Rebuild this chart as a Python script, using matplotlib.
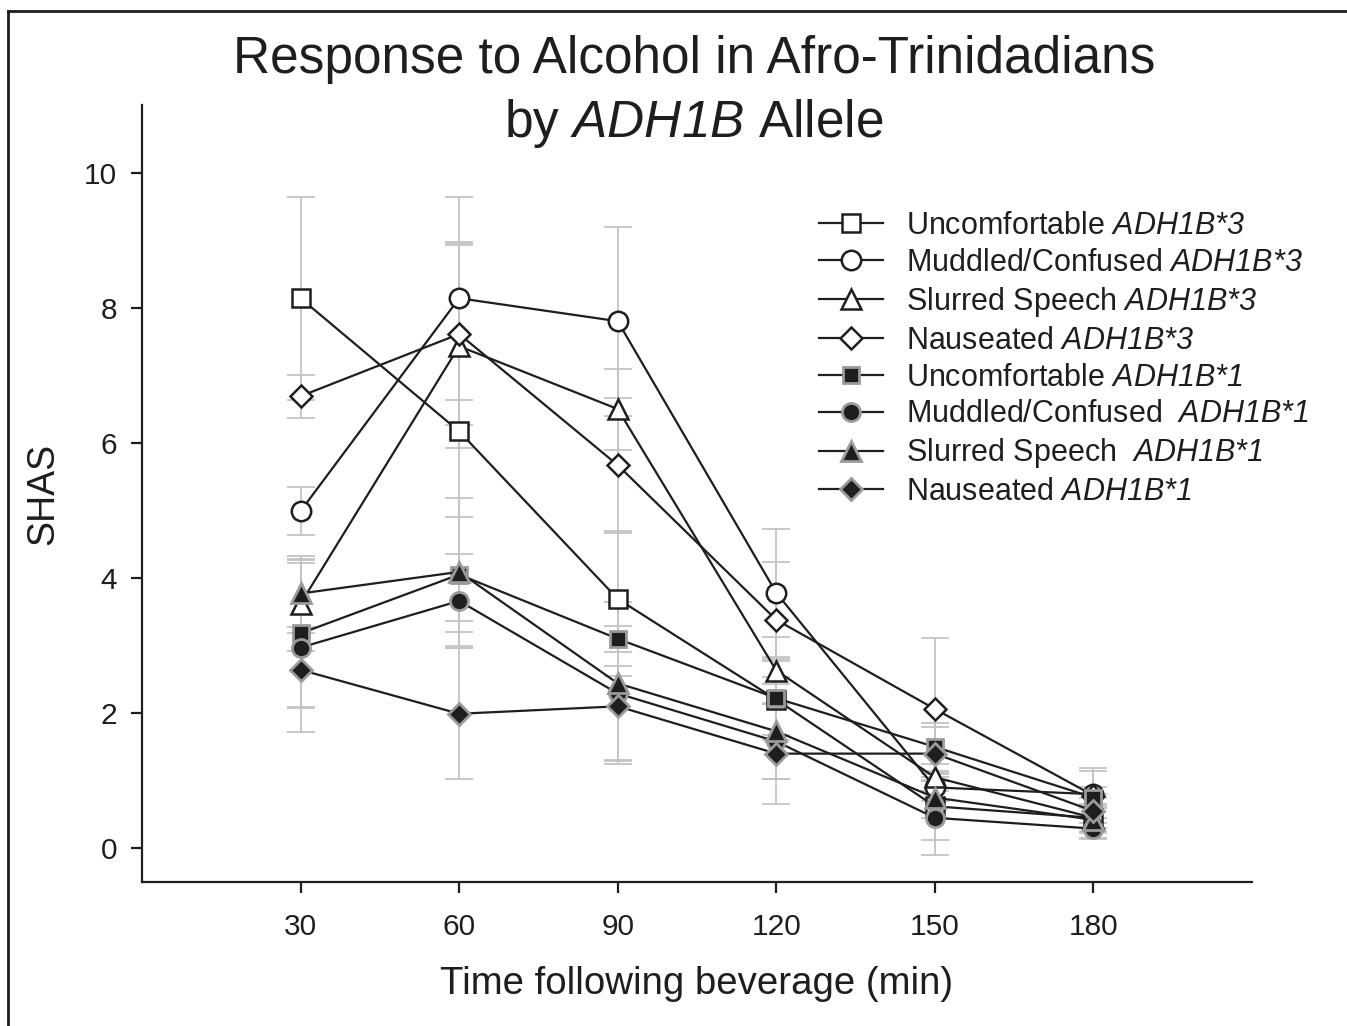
import matplotlib
matplotlib.use("Agg")
import matplotlib.pyplot as plt
from matplotlib.lines import Line2D

plt.rcParams['font.family'] = ['Liberation Sans', 'DejaVu Sans']
# math segments are only used for the italic gene names
plt.rcParams['mathtext.fontset'] = 'custom'
plt.rcParams['mathtext.rm'] = 'Liberation Sans:italic'
plt.rcParams['mathtext.it'] = 'Liberation Sans:italic'

# Time points (min)
times = [30, 60, 90, 120, 150, 180]

# Mean SHAS scores per symptom and allele
unc_3 = [8.14, 6.17, 3.69, 2.20, 0.62, 0.45]
mud_3 = [4.99, 8.14, 7.80, 3.78, 0.90, 0.80]
slur_3 = [3.62, 7.43, 6.50, 2.63, 1.05, 0.45]
naus_3 = [6.69, 7.61, 5.67, 3.38, 2.06, 0.78]
unc_1 = [3.18, 4.05, 3.10, 2.22, 1.50, 0.75]
mud_1 = [2.97, 3.66, 2.29, 1.58, 0.45, 0.29]
slur_1 = [3.77, 4.09, 2.44, 1.73, 0.75, 0.42]
naus_1 = [2.64, 1.99, 2.10, 1.40, 1.40, 0.55]

# Standard errors
unc_3_err = [1.50, 2.80, 1.00, 0.60, 0.50, 0.20]
mud_3_err = [0.35, 1.50, 1.40, 0.95, 0.20, 0.35]
slur_3_err = [0.70, 1.50, 0.60, 0.50, 0.20, 0.30]
naus_3_err = [0.32, 1.35, 1.00, 0.85, 1.05, 0.40]
unc_1_err = [1.10, 0.85, 0.55, 0.55, 0.35, 0.15]
mud_1_err = [1.25, 0.70, 1.00, 0.55, 0.55, 0.15]
slur_1_err = [0.50, 1.10, 1.20, 0.70, 0.30, 0.20]
naus_1_err = [0.55, 0.97, 0.80, 0.75, 0.40, 0.25]

labels = [
    r"Uncomfortable $ADH1B{*}3$",
    r"Muddled/Confused $ADH1B{*}3$",
    r"Slurred Speech $ADH1B{*}3$",
    r"Nauseated $ADH1B{*}3$",
    r"Uncomfortable $ADH1B{*}1$",
    r"Muddled/Confused  $ADH1B{*}1$",
    r"Slurred Speech  $ADH1B{*}1$",
    r"Nauseated $ADH1B{*}1$",
]
x_ticks = [30, 60, 90, 120, 150, 180]
y_ticks = [0, 2, 4, 6, 8, 10]

series = [
    (unc_3, unc_3_err, 's', False, 13),
    (mud_3, mud_3_err, 'o', False, 14),
    (slur_3, slur_3_err, '^', False, 14),
    (naus_3, naus_3_err, 'D', False, 11),
    (unc_1, unc_1_err, 's', True, 12),
    (mud_1, mud_1_err, 'o', True, 13),
    (slur_1, slur_1_err, '^', True, 14),
    (naus_1, naus_1_err, 'D', True, 11),
]

ink = '#1e1e1e'

fig = plt.figure(figsize=(13.47, 10.26), dpi=100)
ax = fig.add_axes([142 / 1347, 144 / 1026, 1110 / 1347, 777 / 1026])

# error bars first, in light grey behind the lines
for vals, errs, mk, filled, ms in series:
    ax.errorbar(times, vals, yerr=errs, fmt='none', ecolor='#c4c4c4',
                elinewidth=1.3, capsize=10, capthick=1.3, zorder=1)

handles = []
for (vals, errs, mk, filled, ms), lab in zip(series, labels):
    if filled:
        fc, ec, mew = ink, '#9a9a9a', 2.0
    else:
        fc, ec, mew = 'white', ink, 1.8
    h, = ax.plot(times, vals, color=ink, lw=1.6, marker=mk,
                 markersize=ms, markerfacecolor=fc, markeredgecolor=ec,
                 markeredgewidth=mew, zorder=3, label=lab)
    handles.append(h)

ax.set_xlim(0, 210)
ax.set_ylim(-0.5, 11)
ax.set_xticks(x_ticks)
ax.set_yticks(y_ticks)
ax.spines['top'].set_visible(False)
ax.spines['right'].set_visible(False)
for s in ('left', 'bottom'):
    ax.spines[s].set_linewidth(1.6)
    ax.spines[s].set_color(ink)
ax.tick_params(axis='both', direction='out', length=8, width=1.6,
               color=ink, labelsize=21.5, labelcolor=ink, pad=10)
ax.tick_params(axis='x', pad=14)

ax.set_xlabel("Time following beverage (min)", fontsize=27.6, color=ink,
              labelpad=18)
ax.set_ylabel("SHAS", fontsize=27, color=ink, labelpad=16)

fig.text(694 / 1347, 1 - 59 / 1026, "Response to Alcohol in Afro-Trinidadians",
         ha='center', va='center', fontsize=37, color=ink)
fig.text(694 / 1347, 1 - 123 / 1026, r"by $ADH1B$ Allele",
         ha='center', va='center', fontsize=37, color=ink)

leg = fig.legend(handles=handles, loc='upper left',
                 bbox_to_anchor=(819 / 1347, 1 - 211 / 1026),
                 frameon=False, fontsize=22, handlelength=2.1,
                 handletextpad=0.75, labelspacing=0.225, borderaxespad=0,
                 borderpad=0)
for t in leg.get_texts():
    t.set_color(ink)

# outer frame: top and left edges
fig.add_artist(Line2D([8 / 1347, 1.0], [1 - 11 / 1026, 1 - 11 / 1026],
                      transform=fig.transFigure, color=ink, lw=2.0))
fig.add_artist(Line2D([8 / 1347, 8 / 1347], [0.0, 1 - 11 / 1026],
                      transform=fig.transFigure, color=ink, lw=2.0))

fig.savefig("out.png", dpi=100, facecolor='white')
